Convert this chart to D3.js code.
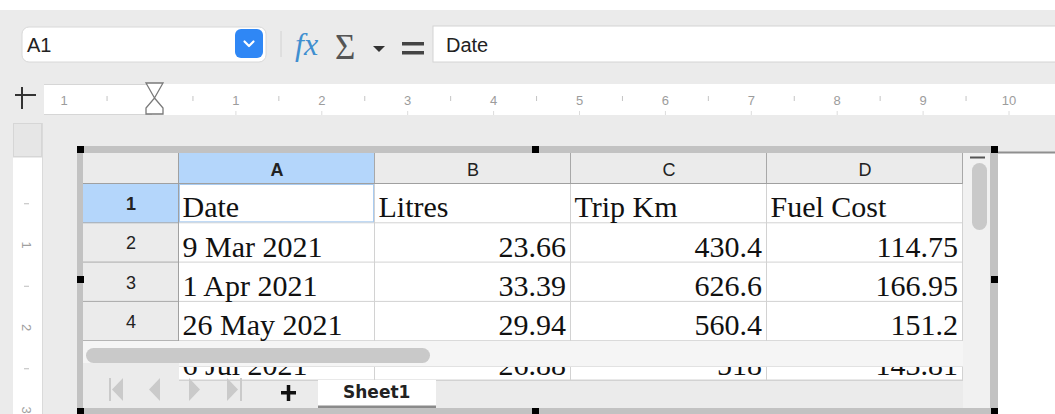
<!DOCTYPE html>
<html>
<head>
<meta charset="utf-8">
<script src="https://cdn.jsdelivr.net/npm/d3@7"></script>
<style>
  html, body { margin: 0; padding: 0; background: #fff; overflow: hidden; }
  svg { display: block; }
</style>
</head>
<body>
<svg id="sheet" width="1055" height="414"></svg>
<script>
// spreadsheet content
const columns = ["A", "B", "C", "D"];
const rowNumbers = [1, 2, 3, 4, 5];
const fieldNames = ["Date", "Litres", "Trip Km", "Fuel Cost"];
const dates = ["9 Mar 2021", "1 Apr 2021", "26 May 2021", "6 Jul 2021"];
const litres = [23.66, 33.39, 29.94, 26.88];
const tripKm = [430.4, 626.6, 560.4, 518];
const fuelCost = [114.75, 166.95, 151.2, 143.81];

// ruler labels (cm)
const rulerLabels = [-1, 1, 2, 3, 4, 5, 6, 7, 8, 9, 10];
const rulerHalfTicks = [-0.5, 0.5, 1.5, 2.5, 3.5, 4.5, 5.5, 6.5, 7.5, 8.5, 9.5];
const sideRulerLabels = [1, 2, 3];
const sideRulerDashes = [0.5, 1.5, 2.5];

const selectedCell = { col: "A", row: 1 };

const svg = d3.select("#sheet");
const uiFont = "'Liberation Sans', Arial, Helvetica, sans-serif";
const cellFont = "'Liberation Serif', 'Times New Roman', serif";

const x = d3.scaleBand().domain(columns).range([179, 963]);
const y = d3.scaleBand().domain(rowNumbers).range([184, 380.5]);
const ruler = d3.scaleLinear().domain([0, 10]).range([150, 1009]);
const sideRuler = d3.scaleLinear().domain([1, 3]).range([245, 410]);

const rect = (g, x0, y0, w, h, fill) =>
  g.append("rect").attr("x", x0).attr("y", y0).attr("width", w).attr("height", h).attr("fill", fill);
const line = (g, x1, y1, x2, y2, stroke, sw = 1) =>
  g.append("line").attr("x1", x1).attr("y1", y1).attr("x2", x2).attr("y2", y2)
    .attr("stroke", stroke).attr("stroke-width", sw);

// ---- window background / toolbar ----
const ui = svg.append("g");
rect(ui, 0, 0, 1055, 414, "#ebebeb");
rect(ui, 0, 0, 1055, 10, "#ffffff");

// name box
ui.append("rect").attr("x", 22).attr("y", 27).attr("width", 244).attr("height", 35)
  .attr("rx", 7).attr("fill", "#fff").attr("stroke", "#d8d8d8");
ui.append("text").attr("x", 27).attr("y", 52).attr("font-family", uiFont)
  .attr("font-size", 20).attr("fill", "#222").text("A1");
ui.append("rect").attr("x", 235).attr("y", 29).attr("width", 28).attr("height", 29)
  .attr("rx", 6).attr("fill", "#2f87f5");
ui.append("path").attr("d", "M244.5,41.5 L249,46 L253.5,41.5")
  .attr("fill", "none").attr("stroke", "#fff").attr("stroke-width", 2.2)
  .attr("stroke-linecap", "round").attr("stroke-linejoin", "round");
line(ui, 281, 31, 281, 57, "#d2d2d2");

// formula toolbar icons
ui.append("text").attr("x", 295).attr("y", 55).attr("font-family", cellFont)
  .attr("font-style", "italic").attr("font-size", 32).attr("fill", "#3f8fd0").text("fx");
ui.append("text").attr("x", 335).attr("y", 59).attr("font-family", cellFont)
  .attr("font-size", 35).attr("fill", "#555").text("Σ");
ui.append("path").attr("d", "M373,46 L385,46 L379,52 Z").attr("fill", "#333");
rect(ui, 402, 42, 22, 3.5, "#444");
rect(ui, 402, 51, 22, 3.5, "#444");

// formula input
ui.append("rect").attr("x", 433).attr("y", 26).attr("width", 640).attr("height", 36)
  .attr("fill", "#fff").attr("stroke", "#d4d4d4");
ui.append("text").attr("x", 446).attr("y", 52).attr("font-family", uiFont)
  .attr("font-size", 20).attr("fill", "#222").text(fieldNames[0]);

// ---- horizontal ruler ----
rect(ui, 44, 84, 1011, 31, "#ffffff");
line(ui, 44, 84.5, 152, 84.5, "#d6d6d6");
line(ui, 44, 114.5, 152, 114.5, "#d6d6d6");
line(ui, 22, 87, 22, 109, "#333", 2);
line(ui, 15, 95, 36, 95, "#333", 2);

ui.append("g").selectAll("text").data(rulerLabels).join("text")
  .attr("x", d => ruler(d)).attr("y", 105).attr("text-anchor", "middle")
  .attr("font-family", uiFont).attr("font-size", 13).attr("fill", "#9c9c9c")
  .text(d => Math.abs(d));
ui.append("g").selectAll("line").data(rulerHalfTicks).join("line")
  .attr("x1", d => ruler(d)).attr("x2", d => ruler(d)).attr("y1", 96).attr("y2", 101)
  .attr("stroke", "#c4c4c4");
ui.append("g").selectAll("line").data(rulerLabels.filter(d => d > 0)).join("line")
  .attr("x1", d => ruler(d)).attr("x2", d => ruler(d)).attr("y1", 111).attr("y2", 115)
  .attr("stroke", "#dcdcdc");

// indent marker
const mx = ruler(0) + 4.5;
ui.append("path")
  .attr("d", `M${mx - 8.5},83 L${mx + 8.5},83 L${mx},98 Z M${mx},98 L${mx + 8.5},108 L${mx + 8.5},114 L${mx - 8.5},114 L${mx - 8.5},108 Z`)
  .attr("fill", "#fff").attr("stroke", "#7a7a7a").attr("stroke-width", 1.3);

// ---- vertical ruler ----
ui.append("rect").attr("x", 13.5).attr("y", 123.5).attr("width", 28).attr("height", 33)
  .attr("fill", "#e6e6e6").attr("stroke", "#d6d6d6");
rect(ui, 13, 158, 29, 256, "#ffffff");
line(ui, 42.5, 123, 42.5, 414, "#dadada");
ui.append("g").selectAll("line").data(sideRulerDashes).join("line")
  .attr("x1", 24).attr("x2", 29).attr("y1", d => sideRuler(d)).attr("y2", d => sideRuler(d))
  .attr("stroke", "#bdbdbd");
ui.append("g").selectAll("text").data(sideRulerLabels).join("text")
  .attr("transform", d => `translate(22,${sideRuler(d)}) rotate(90)`)
  .attr("text-anchor", "middle").attr("font-family", uiFont).attr("font-size", 13)
  .attr("fill", "#a0a0a0").text(d => d);

// page edge to the right of the object
rect(ui, 998, 153, 57, 261, "#ffffff");
line(ui, 998, 152.5, 1055, 152.5, "#8f8f8f", 2);

// ---- embedded sheet ----
const sheet = svg.append("g");
rect(sheet, 83, 153, 907, 255, "#ffffff");

const table = rowNumbers.map((r, i) => i === 0
  ? fieldNames
  : [dates[i - 1], litres[i - 1], tripKm[i - 1], fuelCost[i - 1]]);

svg.append("clipPath").attr("id", "cells")
  .append("rect").attr("x", 83).attr("y", 153).attr("width", 880).attr("height", 227);
const cells = sheet.append("g").attr("clip-path", "url(#cells)");

// grid lines
cells.selectAll(".hline").data(rowNumbers).join("line").attr("class", "hline")
  .attr("x1", 179).attr("x2", 963)
  .attr("y1", d => y(d) + y.bandwidth() - 0.5).attr("y2", d => y(d) + y.bandwidth() - 0.5)
  .attr("stroke", "#d2d2d2");
cells.selectAll(".vline").data(columns).join("line").attr("class", "vline")
  .attr("x1", d => x(d) + x.bandwidth() - 0.5).attr("x2", d => x(d) + x.bandwidth() - 0.5)
  .attr("y1", 184).attr("y2", 381)
  .attr("stroke", "#d2d2d2");

// cell values
rowNumbers.forEach((r, i) => {
  columns.forEach((c, j) => {
    const v = table[i][j];
    const isNum = typeof v === "number";
    cells.append("text")
      .attr("x", isNum ? x(c) + x.bandwidth() - 5 : x(c) + 3.5)
      .attr("y", y(r) + y.bandwidth() - 6)
      .attr("text-anchor", isNum ? "end" : "start")
      .attr("font-family", cellFont).attr("font-size", 30).attr("fill", "#111")
      .text(String(v));
  });
});

// selection outline
cells.append("rect")
  .attr("x", x(selectedCell.col) + 0.5).attr("y", y(selectedCell.row) + 0.5)
  .attr("width", x.bandwidth() - 2).attr("height", y.bandwidth() - 2)
  .attr("fill", "none").attr("stroke", "#a9cbf0");

// column headers
rect(sheet, 83, 153, 880, 31, "#ebebeb");
sheet.selectAll(".colhead").data(columns).join("rect").attr("class", "colhead")
  .attr("x", d => x(d)).attr("y", 153).attr("width", x.bandwidth()).attr("height", 31)
  .attr("fill", d => d === selectedCell.col ? "#b4d6fb" : "#ebebeb");
sheet.selectAll(".colsep").data(columns).join("line").attr("class", "colsep")
  .attr("x1", d => x(d) - 0.5).attr("x2", d => x(d) - 0.5).attr("y1", 153).attr("y2", 184)
  .attr("stroke", "#a8a8a8");
line(sheet, 83, 183.5, 963, 183.5, "#a0a0a0");
line(sheet, 962.5, 153, 962.5, 184, "#a8a8a8");
sheet.selectAll(".collabel").data(columns).join("text").attr("class", "collabel")
  .attr("x", d => x(d) + x.bandwidth() / 2).attr("y", 176).attr("text-anchor", "middle")
  .attr("font-family", uiFont).attr("font-size", 18)
  .attr("font-weight", d => d === selectedCell.col ? "bold" : "normal")
  .attr("fill", "#222").text(d => d);

// row headers (rows 1-4 visible above the scrollbar)
const visibleRows = rowNumbers.slice(0, 4);
sheet.selectAll(".rowhead").data(visibleRows).join("rect").attr("class", "rowhead")
  .attr("x", 83).attr("y", d => y(d)).attr("width", 96).attr("height", y.bandwidth())
  .attr("fill", d => d === selectedCell.row ? "#b4d6fb" : "#ebebeb");
sheet.selectAll(".rowsep").data(visibleRows).join("line").attr("class", "rowsep")
  .attr("x1", 83).attr("x2", 179).attr("y1", d => y(d) + y.bandwidth() - 0.5)
  .attr("y2", d => y(d) + y.bandwidth() - 0.5).attr("stroke", "#a8a8a8");
line(sheet, 178.5, 153, 178.5, 341, "#a0a0a0");
sheet.selectAll(".rowlabel").data(visibleRows).join("text").attr("class", "rowlabel")
  .attr("x", 131).attr("y", d => y(d) + y.bandwidth() / 2 + 6.5).attr("text-anchor", "middle")
  .attr("font-family", uiFont).attr("font-size", 18)
  .attr("font-weight", d => d === selectedCell.row ? "bold" : "normal")
  .attr("fill", "#222").text(d => d);

// horizontal scrollbar
rect(sheet, 83, 341, 880, 26, "#f5f5f5");
sheet.append("rect").attr("x", 86).attr("y", 348).attr("width", 344).attr("height", 15)
  .attr("rx", 7.5).attr("fill", "#c9c9c9");
line(sheet, 83, 366.5, 963, 366.5, "#e2e2e2");

// tab bar
rect(sheet, 83, 363, 96, 17, "#ebebeb");
rect(sheet, 83, 380, 880, 28, "#ebebeb");
line(sheet, 179, 380.5, 963, 380.5, "#d2d2d2");
const nav = sheet.append("g").attr("fill", "#cacaca");
nav.append("path").attr("d", "M109,378 L111,378 L111,401 L109,401 Z M123,378 L123,401 L112,389.5 Z");
nav.append("path").attr("d", "M160,378 L160,401 L149,389.5 Z");
nav.append("path").attr("d", "M189,378 L200,389.5 L189,401 Z");
nav.append("path").attr("d", "M227,378 L238,389.5 L227,401 Z M240,378 L242,378 L242,401 L240,401 Z");
rect(sheet, 281, 391, 15, 3.5, "#111");
rect(sheet, 286.75, 385, 3.5, 16, "#111");
rect(sheet, 318, 380, 118, 27, "#ffffff");
rect(sheet, 318, 405.5, 118, 3, "#8a8a8a");
sheet.append("text").attr("x", 343).attr("y", 398).attr("font-family", "'DejaVu Sans', sans-serif")
  .attr("font-size", 17).attr("font-weight", "bold").attr("fill", "#222")
  .text("Sheet1");

// vertical scrollbar
rect(sheet, 963, 153, 27, 255, "#f1f1f1");
line(sheet, 970, 157.5, 985, 157.5, "#555", 2);
sheet.append("rect").attr("x", 972).attr("y", 163).attr("width", 15).attr("height", 67)
  .attr("rx", 7.5).attr("fill", "#c9c9c9");

// object frame and handles
const frame = svg.append("g");
rect(frame, 77, 146, 921, 7, "#c2c2c2");
rect(frame, 77, 146, 6, 268, "#c2c2c2");
rect(frame, 990, 146, 8, 268, "#c2c2c2");
rect(frame, 77, 408, 921, 6, "#c2c2c2");
const handles = [[77, 146], [532, 146], [991, 146], [77, 276], [991, 276], [77, 408], [532, 408], [991, 408]];
frame.append("g").selectAll("rect").data(handles).join("rect")
  .attr("x", d => d[0]).attr("y", d => d[1]).attr("width", 7).attr("height", 7).attr("fill", "#000");
</script>
</body>
</html>
